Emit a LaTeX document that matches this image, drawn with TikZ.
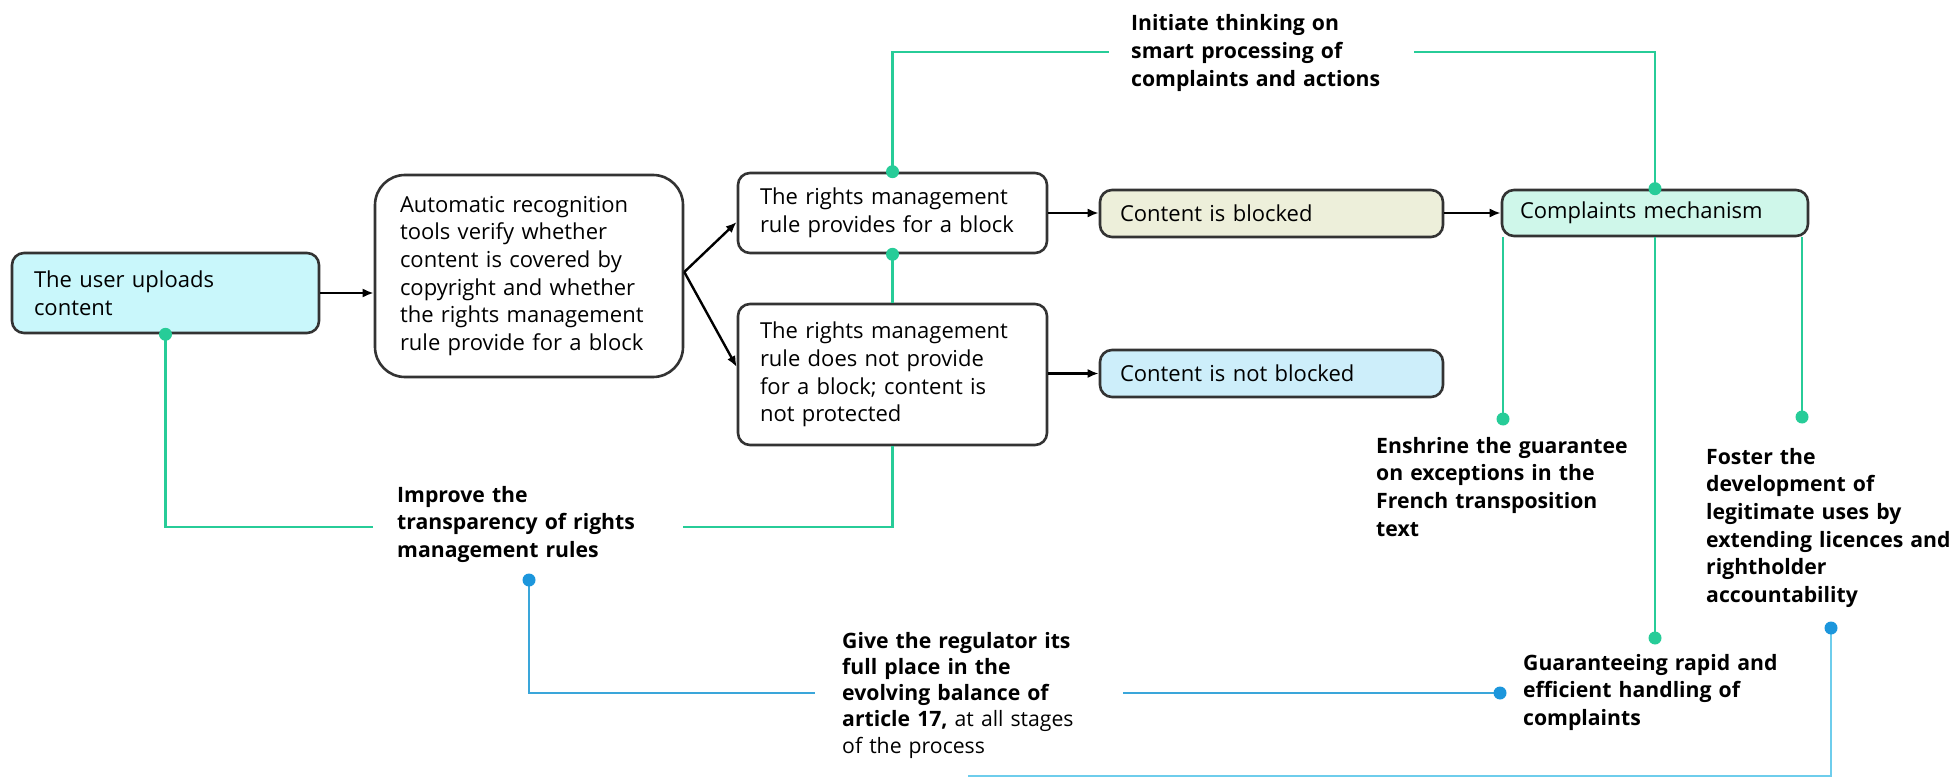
\documentclass[tikz,border=0pt]{standalone}
\usepackage{fontspec}
\setmainfont{Open Sans}
\usetikzlibrary{arrows.meta}

\definecolor{boxline}{HTML}{333333}
\definecolor{gline}{HTML}{27CC98}
\definecolor{bline}{HTML}{3AA6DA}
\definecolor{bdot}{HTML}{1C96DC}
\definecolor{lbline}{HTML}{6ECDEC}
\definecolor{userfill}{HTML}{C9F7FB}
\definecolor{blockfill}{HTML}{EDEFDA}
\definecolor{openfill}{HTML}{CDEEFA}
\definecolor{compfill}{HTML}{CFF7EA}

\begin{document}
\begin{tikzpicture}[x=1pt,y=-1pt,
  box/.style={draw=boxline, line width=2.6pt, rounded corners=12pt, align=left,
    inner ysep=0pt, font=\fontsize{22}{27.7}\selectfont},
  lab/.style={anchor=base west, inner sep=0pt, align=left, text width=300pt,
    font=\fontsize{21.2}{27.7}\selectfont\bfseries},
  flow/.style={draw=black, line width=2.4pt, -{Latex[length=11pt,width=9pt]}},
  gconn/.style={draw=gline, line width=2.8pt},
  bconn/.style={draw=bline, line width=2.8pt},
  lbconn/.style={draw=lbline, line width=2.8pt},
  gdot/.style={fill=gline},
  bluedot/.style={fill=bdot}
]
\useasboundingbox (0,0) rectangle (1954,778);

% process boxes
\node[box, fill=userfill, minimum width=307, minimum height=80, text width=263, inner xsep=22]
  (user) at (165.5,293) {The user uploads\\content};
\node[box, rounded corners=30pt, minimum width=308, minimum height=202, text width=258, inner xsep=25]
  (auto) at (529,276) {Automatic recognition\\tools verify whether\\content is covered by\\copyright and whether\\the rights management\\rule provide for a block};
\node[box, minimum width=309, minimum height=80, text width=265, inner xsep=22]
  (r1) at (892.5,213) {The rights management\\rule provides for a block};
\node[box, minimum width=309, minimum height=141, text width=265, inner xsep=22]
  (r2) at (892.5,374.5) {The rights management\\rule does not provide\\for a block; content is\\not protected};
\node[box, fill=blockfill, minimum width=343, minimum height=47, text width=303, inner xsep=20]
  (blk) at (1271.5,213.5) {Content is blocked};
\node[box, fill=openfill, minimum width=343, minimum height=47, text width=303, inner xsep=20]
  (nblk) at (1271.5,373.5) {Content is not blocked};
\node[box, fill=compfill, minimum width=306, minimum height=46, text width=270, inner xsep=18]
  (cm) at (1655,213) {Complaints mechanism};

% process flow
\draw[flow] (user.east |- 0,293) -- (auto.west |- 0,293);
\draw[flow] (auto.east |- 0,272) -- (r1.west |- 0,222);
\draw[flow] (auto.east |- 0,272) -- (r2.west |- 0,367);
\draw[flow] (r1.east |- 0,213) -- (blk.west |- 0,213);
\draw[flow] (r2.east |- 0,373.5) -- (nblk.west |- 0,373.5);
\draw[flow] (blk.east |- 0,213) -- (cm.west |- 0,213);

% recommendation labels
\node[lab] (ini) at (1131,31) {Initiate thinking on\\smart processing of\\complaints and actions};
\node[lab] (imp) at (397,502) {Improve the\\transparency of rights\\management rules};
\node[lab] (ens) at (1376,453) {Enshrine the guarantee\\on exceptions in the\\French transposition\\text};
\node[lab] (fos) at (1706,464) {Foster the\\development of\\legitimate uses by\\extending licences and\\rightholder\\accountability};
\node[lab] (gua) at (1523,670) {Guaranteeing rapid and\\efficient handling of\\complaints};
\node[lab, font=\fontsize{21.2}{26.3}\selectfont] (give) at (842,648)
  {\textbf{Give the regulator its}\\\textbf{full place in the}\\\textbf{evolving balance of}\\\textbf{article 17,} at all stages\\of the process};

% free ends of the connectors
\coordinate (iniL) at (1109,52);
\coordinate (iniR) at (1414,52);
\coordinate (impL) at (373,527);
\coordinate (impR) at (683,527);
\coordinate (ensDot) at (1503,419);
\coordinate (guaDot) at (1655,638);
\coordinate (fosDot) at (1802,417);
\coordinate (impDot) at (529,580);
\coordinate (giveL) at (815,693);
\coordinate (giveR) at (1123,693);
\coordinate (guaBlue) at (1500,693);
\coordinate (fosBlue) at (1831,628);
\coordinate (bottomEnd) at (968,776);

% green links
\draw[gconn] (r1.north) |- (iniL);
\draw[gconn] (iniR) -| (cm.north);
\draw[gconn] (r1.south) -- (r2.north);
\draw[gconn] (r2.south) |- (impR);
\draw[gconn] (impL) -| (user.south);
\draw[gconn] (ensDot |- cm.south) -- (ensDot);
\draw[gconn] (cm.south) -- (guaDot);
\draw[gconn] (fosDot |- cm.south) -- (fosDot);
\foreach \p in {r1.north, cm.north, r1.south, user.south, ensDot, guaDot, fosDot}
  \fill[gdot] (\p) circle (6.5);

% blue links
\draw[bconn] (impDot) |- (giveL);
\draw[bconn] (giveR) -- (guaBlue);
\draw[lbconn] (fosBlue) |- (bottomEnd);
\foreach \p in {impDot, guaBlue, fosBlue}
  \fill[bluedot] (\p) circle (6.5);
\end{tikzpicture}
\end{document}
